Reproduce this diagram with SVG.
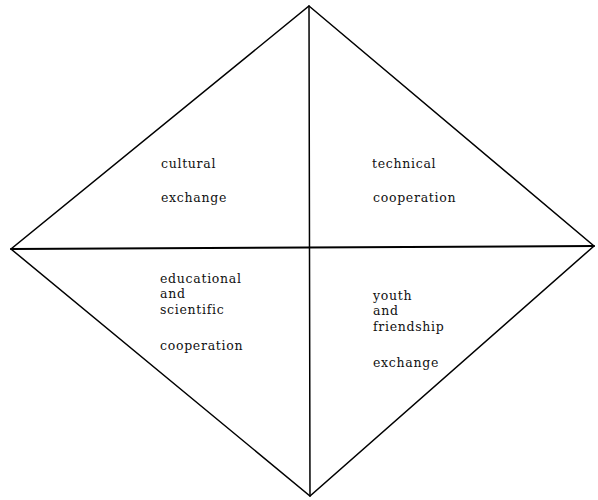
<svg xmlns="http://www.w3.org/2000/svg" width="598" height="500" viewBox="0 0 598 500">
<style>
.l{stroke:#000;stroke-width:1.5;fill:none;stroke-linecap:round}
.t{font-family:"DejaVu Serif","Liberation Serif",serif;font-size:12.5px;letter-spacing:0.7px;fill:#111}
</style>
<rect width="598" height="500" fill="#fff"/>
<g id="connectors">
<polygon class="l" points="309,6 594,246 310,496 11,249"/>
<line class="l" x1="309" y1="6" x2="310" y2="496"/>
<line class="l" x1="11" y1="249" x2="594" y2="246" style="stroke-width:2"/>
</g>
<g id="cultural">
<text class="t" x="161" y="168">cultural</text>
<text class="t" x="161" y="202">exchange</text>
</g>
<g id="technical">
<text class="t" x="372" y="168">technical</text>
<text class="t" x="373" y="202">cooperation</text>
</g>
<g id="educational">
<text class="t" x="160" y="283">educational</text>
<text class="t" x="160" y="298">and</text>
<text class="t" x="160" y="314">scientific</text>
<text class="t" x="160" y="350">cooperation</text>
</g>
<g id="youth">
<text class="t" x="373" y="300">youth</text>
<text class="t" x="373" y="315">and</text>
<text class="t" x="373" y="331">friendship</text>
<text class="t" x="373" y="367">exchange</text>
</g>
</svg>
